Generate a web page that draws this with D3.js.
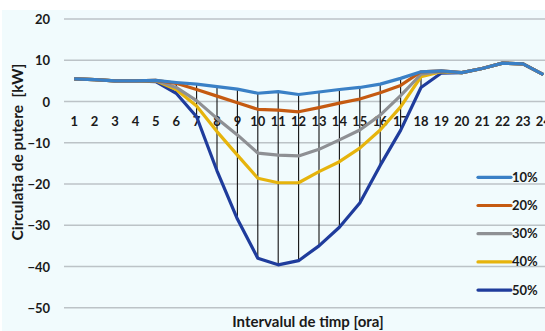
<!DOCTYPE html>
<html><head><meta charset="utf-8">
<script src="https://cdn.jsdelivr.net/npm/d3@7"></script>
<style>
html,body{margin:0;padding:0;background:#fff;overflow:hidden;}
svg{display:block;}
text{font-family:Lato,"Open Sans",sans-serif;font-weight:bold;fill:#1a1a1a;}
</style></head>
<body>
<script>
const hours = d3.range(1, 25);
const seriesNames = ["10%", "20%", "30%", "40%", "50%"];
const s10 = [5.5,5.3,5.0,5.0,5.1,4.6,4.2,3.6,3.0,2.0,2.4,1.7,2.3,2.9,3.4,4.2,5.6,7.2,7.4,7.0,8.0,9.3,9.1,6.5];
const s20 = [5.5,5.3,5.0,5.0,5.1,4.4,2.9,1.3,-0.3,-1.9,-2.1,-2.5,-1.5,-0.4,0.6,2.1,3.9,7.2,7.4,7.0,8.0,9.3,9.1,6.5];
const s30 = [5.5,5.3,5.0,5.0,5.1,3.4,0.2,-4.1,-8.1,-12.5,-13.0,-13.2,-11.6,-9.3,-6.9,-3.3,1.4,6.6,7.3,7.0,8.0,9.3,9.1,6.5];
const s40 = [5.5,5.3,5.0,5.0,5.0,2.9,-1.1,-7.3,-13.0,-18.6,-19.7,-19.7,-17.0,-14.6,-11.3,-6.9,-1.3,6.0,7.2,7.0,8.0,9.3,9.1,6.5];
const s50 = [5.5,5.3,5.0,5.0,4.8,2.0,-3.7,-16.8,-28.5,-38.0,-39.6,-38.6,-35.0,-30.5,-24.6,-15.5,-7.0,3.4,6.9,7.0,8.0,9.3,9.1,6.5];
const seriesValues = [s10, s20, s30, s40, s50];
const colors = ["#3a80c6", "#c55a11", "#8e9094", "#e6b40c", "#1f3c9c"];
const yTicks = [20, 10, 0, -10, -20, -30, -40, -50];
const dropHours = d3.range(6, 19);
const yTitle = "Circulatia de putere  [kW]";
const xTitle = "Intervalul de timp [ora]";

const W = 545, H = 331;
const svg = d3.select("body").append("svg").attr("width", W).attr("height", H);
svg.append("rect").attr("x", 2).attr("y", 10).attr("width", W).attr("height", H).attr("fill", "#f1fbfd");

const x = d3.scaleBand().domain(hours).range([64, 64 + 24 * 20.4]).padding(0);
const xc = h => x(h) + x.bandwidth() / 2;
const y = d3.scaleLinear().domain([-50, 20]).range([307.7, 19]);

// gridlines
svg.append("g").selectAll("line").data(yTicks).join("line")
  .attr("x1", 64).attr("x2", W).attr("y1", d => y(d)).attr("y2", d => y(d))
  .attr("stroke", "#bcc3c7").attr("stroke-width", 1.5);

// y axis labels
const yAxis = d3.axisLeft(y).tickValues(yTicks).tickSize(0).tickPadding(0);
const gy = svg.append("g").attr("transform", "translate(50,0)").call(yAxis);
gy.select(".domain").remove();
gy.selectAll("text").style("font-size", "13px").attr("fill", "#1a1a1a").attr("dy", "0.35em");

// x axis labels (at 0 line)
const xAxis = d3.axisBottom(x).tickSize(0).tickPadding(0);
const gx = svg.append("g").attr("transform", `translate(0,${y(0)})`).call(xAxis);
gx.select(".domain").remove();
gx.selectAll("text").style("font-size", "13px").attr("fill", "#1a1a1a").attr("dy", "0").attr("y", 25);

// drop lines
svg.append("g").selectAll("line").data(dropHours).join("line")
  .attr("x1", d => xc(d)).attr("x2", d => xc(d))
  .attr("y1", d => y(d3.max(seriesValues, s => s[d - 1])))
  .attr("y2", d => y(d3.min(seriesValues, s => s[d - 1])))
  .attr("stroke", "#111").attr("stroke-width", 1.1);

// series lines
const line = d3.line().x((d, i) => xc(hours[i])).y(d => y(d));
svg.append("g").selectAll("path").data(seriesValues.map((v, i) => ({v, i})).reverse()).join("path")
  .attr("d", d => line(d.v)).attr("fill", "none").attr("stroke", d => colors[d.i])
  .attr("stroke-width", 3.2).attr("stroke-linejoin", "round");

// legend
const lg = svg.append("g");
seriesNames.forEach((n, i) => {
  const ly = 177.3 + i * 28.2;
  lg.append("line").attr("x1", 478).attr("x2", 511).attr("y1", ly).attr("y2", ly)
    .attr("stroke", colors[i]).attr("stroke-width", 3.2).attr("stroke-linecap", "round");
  lg.append("text").attr("x", 512).attr("y", ly).attr("dy", "0.35em")
    .style("font-size", "13px").text(n);
});

// titles
svg.append("text").attr("transform", "translate(18,152) rotate(-90)").attr("text-anchor", "middle")
  .attr("dy", "0.35em").style("font-size", "15.5px").attr("xml:space", "preserve")
  .style("white-space", "pre").text(yTitle);
svg.append("text").attr("x", 308).attr("y", 327).attr("text-anchor", "middle")
  .style("font-size", "15px").text(xTitle);
</script>
</body></html>
